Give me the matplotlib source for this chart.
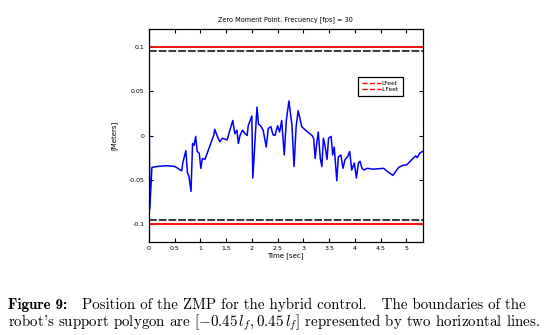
import matplotlib
matplotlib.use("Agg")
import matplotlib.pyplot as plt
from matplotlib.lines import Line2D

# ---------------------------
# data
# ---------------------------
time_sec = [0.0, 0.02, 0.06, 0.16, 0.34, 0.51, 0.64, 0.66, 0.72, 0.75, 0.78, 0.82,
            0.85, 0.88, 0.91, 0.94, 0.98, 1.01, 1.04, 1.09, 1.19, 1.26, 1.28, 1.33,
            1.38, 1.43, 1.52, 1.56, 1.63, 1.67, 1.71, 1.74, 1.77, 1.82, 1.87, 1.91,
            1.93, 2.00, 2.02, 2.10, 2.13, 2.17, 2.22, 2.28, 2.32, 2.37, 2.41, 2.45,
            2.50, 2.54, 2.58, 2.63, 2.67, 2.72, 2.78, 2.82, 2.86, 2.90, 2.97, 3.04,
            3.17, 3.20, 3.23, 3.26, 3.29, 3.33, 3.36, 3.39, 3.42, 3.46, 3.49, 3.54,
            3.57, 3.60, 3.65, 3.68, 3.73, 3.77, 3.81, 3.86, 3.90, 3.94, 3.99, 4.03,
            4.07, 4.10, 4.14, 4.18, 4.24, 4.36, 4.56, 4.62, 4.74, 4.85, 4.92, 5.01,
            5.11, 5.18, 5.21, 5.26, 5.31]
zmp = [0.095, -0.083, -0.036, -0.035, -0.034, -0.035, -0.040, -0.031, -0.017, -0.042,
       -0.046, -0.063, -0.009, -0.011, -0.001, -0.018, -0.020, -0.037, -0.026, -0.027,
       -0.011, 0.000, 0.007, -0.001, -0.007, -0.003, -0.005, 0.003, 0.017, 0.002,
       0.006, -0.009, 0.000, 0.006, 0.002, 0.000, 0.011, 0.022, -0.048, 0.032,
       0.013, 0.011, 0.006, -0.013, 0.008, 0.010, 0.001, 0.000, 0.011, 0.004,
       0.017, -0.022, 0.017, 0.039, 0.011, -0.035, 0.010, 0.028, 0.010, 0.006,
       0.000, -0.003, -0.026, -0.009, 0.004, -0.026, -0.035, -0.003, -0.011, -0.027,
       -0.003, -0.001, -0.022, -0.013, -0.051, -0.024, -0.022, -0.037, -0.027, -0.024,
       -0.018, -0.039, -0.031, -0.048, -0.031, -0.029, -0.037, -0.039, -0.037, -0.038,
       -0.037, -0.040, -0.045, -0.036, -0.034, -0.033, -0.027, -0.023, -0.025, -0.020,
       -0.018]

lfeet = 0.1          # red boundary
inner_bound = 0.095  # black boundary
x_range = [0, 5.32]

# ---------------------------
# figure
# ---------------------------
plt.rcParams['axes.unicode_minus'] = False
plt.rcParams['mathtext.fontset'] = 'cm'

fig = plt.figure(figsize=(5.47, 3.35), dpi=100)
ax = fig.add_axes([0.272, 0.278, 0.501, 0.635])

ax.plot(x_range, [lfeet, lfeet], color='red', lw=1.3)
ax.plot(x_range, [-lfeet, -lfeet], color='red', lw=1.3)
ax.plot(x_range, [inner_bound, inner_bound], color='#383838', lw=1.4, ls=(0, (4, 1)))
ax.plot(x_range, [-inner_bound, -inner_bound], color='#383838', lw=1.4, ls=(0, (4, 1)))
ax.plot(time_sec, zmp, color='blue', lw=1.1)

ax.set_xlim(x_range)
ax.set_ylim(-0.12, 0.12)
ax.set_xticks([0, 0.5, 1, 1.5, 2, 2.5, 3, 3.5, 4, 4.5, 5])
ax.set_xticklabels(['0', '0.5', '1', '1.5', '2', '2.5', '3', '3.5', '4', '4.5', '5'])
ax.set_yticks([-0.1, -0.05, 0, 0.05, 0.1])
ax.set_yticklabels(['-0.1', '-0.05', '0', '0.05', '0.1'])
ax.tick_params(direction='in', length=3, width=0.8, labelsize=4.5, pad=3,
               top=True, right=True)
for s in ax.spines.values():
    s.set_linewidth(0.9)

ax.set_title("Zero Moment Point. Frecuency [fps] = 30", fontsize=4.7, pad=6)
ax.set_xlabel("Time [sec]", fontsize=5, labelpad=1)
ax.set_ylabel("[Meters]", fontsize=5, labelpad=8)

handles = [Line2D([], [], color='red', ls='--', lw=1),
           Line2D([], [], color='red', ls='--', lw=1)]
leg = ax.legend(handles, ['LFeet', '-LFeet'], loc='upper right',
                bbox_to_anchor=(0.927, 0.775), fontsize=4.2, handlelength=3.2,
                handletextpad=0.1, borderpad=0.6, labelspacing=0.25,
                fancybox=False, framealpha=1, borderaxespad=0)
leg.get_frame().set_edgecolor('black')
leg.get_frame().set_linewidth(0.9)

# caption
fig.text(8 / 547, 1 - 309 / 335, "Figure 9:", fontfamily='cmb10', fontsize=10.8,
         va='baseline')
fig.text(82 / 547, 1 - 309 / 335,
         "Position of the ZMP for the hybrid control.   The boundaries of the",
         fontfamily='cmr10', fontsize=10.8, va='baseline')
fig.text(8 / 547, 1 - 326 / 335,
         r"robot's support polygon are $[-0.45\,l_f, 0.45\,l_f]$ represented by two horizontal lines.",
         fontfamily='cmr10', fontsize=10.8, va='baseline')

fig.savefig("out.png", dpi=100)
